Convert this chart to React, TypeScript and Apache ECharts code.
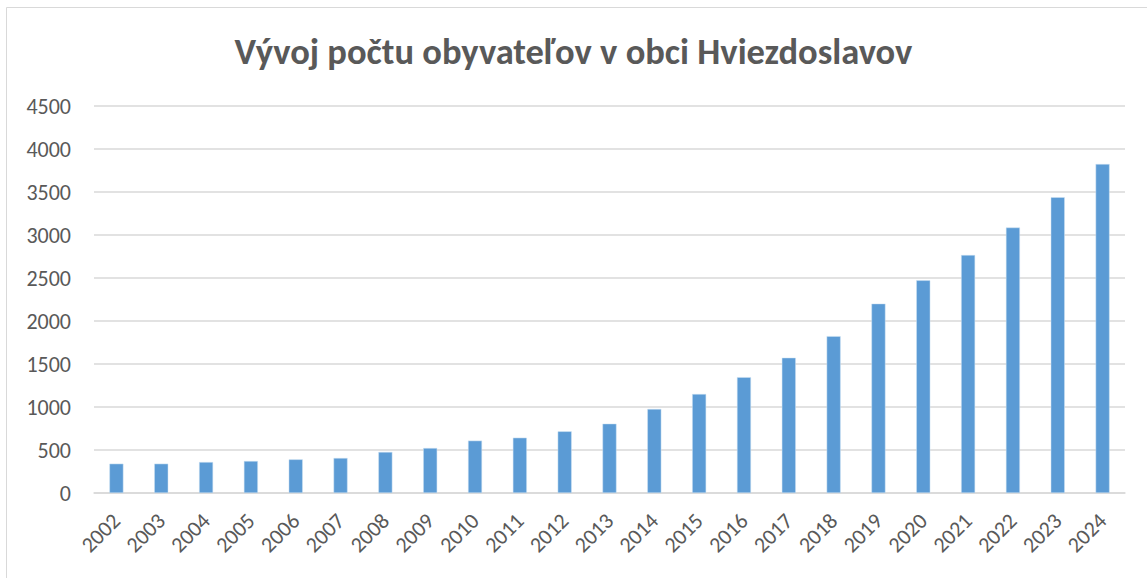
import React, { useEffect, useRef } from "react";
import * as echarts from "echarts";

const titleText = "Vývoj počtu obyvateľov v obci Hviezdoslavov";
const years = ["2002","2003","2004","2005","2006","2007","2008","2009","2010","2011","2012","2013","2014","2015","2016","2017","2018","2019","2020","2021","2022","2023","2024"];
const population = [341, 341, 360, 372, 391, 407, 477, 523, 609, 643, 717, 806, 977, 1151, 1347, 1573, 1824, 2202, 2473, 2767, 3087, 3439, 3825];
const yTicks = { min: 0, max: 4500, interval: 500 };

export default function App() {
  const ref = useRef<HTMLDivElement>(null);
  useEffect(() => {
    document.body.style.margin = "0";
    const chart = echarts.init(ref.current!, null, { renderer: "svg" });
    const font = "Carlito, 'Open Sans', 'Noto Sans', sans-serif";
    chart.setOption({
      animation: false,
      backgroundColor: "#ffffff",
      title: {
        text: titleText,
        left: "center",
        top: 28,
        textStyle: { fontFamily: font, fontSize: 36.5, fontWeight: "bold", color: "#595959" },
      },
      graphic: [
        {
          type: "rect",
          shape: { x: 6.5, y: 7.5, width: 1160, height: 600 },
          style: { fill: "none", stroke: "#d9d9d9", lineWidth: 1 },
          silent: true,
        },
      ],
      grid: { left: 94, right: 22, top: 106, bottom: 85, containLabel: false },
      xAxis: {
        type: "category",
        data: years,
        axisLine: { lineStyle: { color: "#d9d9d9", width: 1.5 } },
        axisTick: { show: false },
        axisLabel: { rotate: 45, fontFamily: font, fontSize: 22, color: "#595959", margin: 24, interval: 0 },
      },
      yAxis: {
        type: "value",
        min: yTicks.min,
        max: yTicks.max,
        interval: yTicks.interval,
        axisLine: { show: false },
        axisTick: { show: false },
        splitLine: { lineStyle: { color: "#d9d9d9", width: 1.5 } },
        axisLabel: { fontFamily: font, fontSize: 22, color: "#595959", margin: 23, formatter: (v: number) => String(v) },
      },
      series: [
        {
          type: "bar",
          data: population,
          barWidth: 14,
          itemStyle: { color: "#5b9bd5", borderColor: "#cfe2f3", borderWidth: 0.5 },
        },
      ],
    });
    return () => chart.dispose();
  }, []);
  return <div ref={ref} style={{ width: 1147, height: 578 }} />;
}
